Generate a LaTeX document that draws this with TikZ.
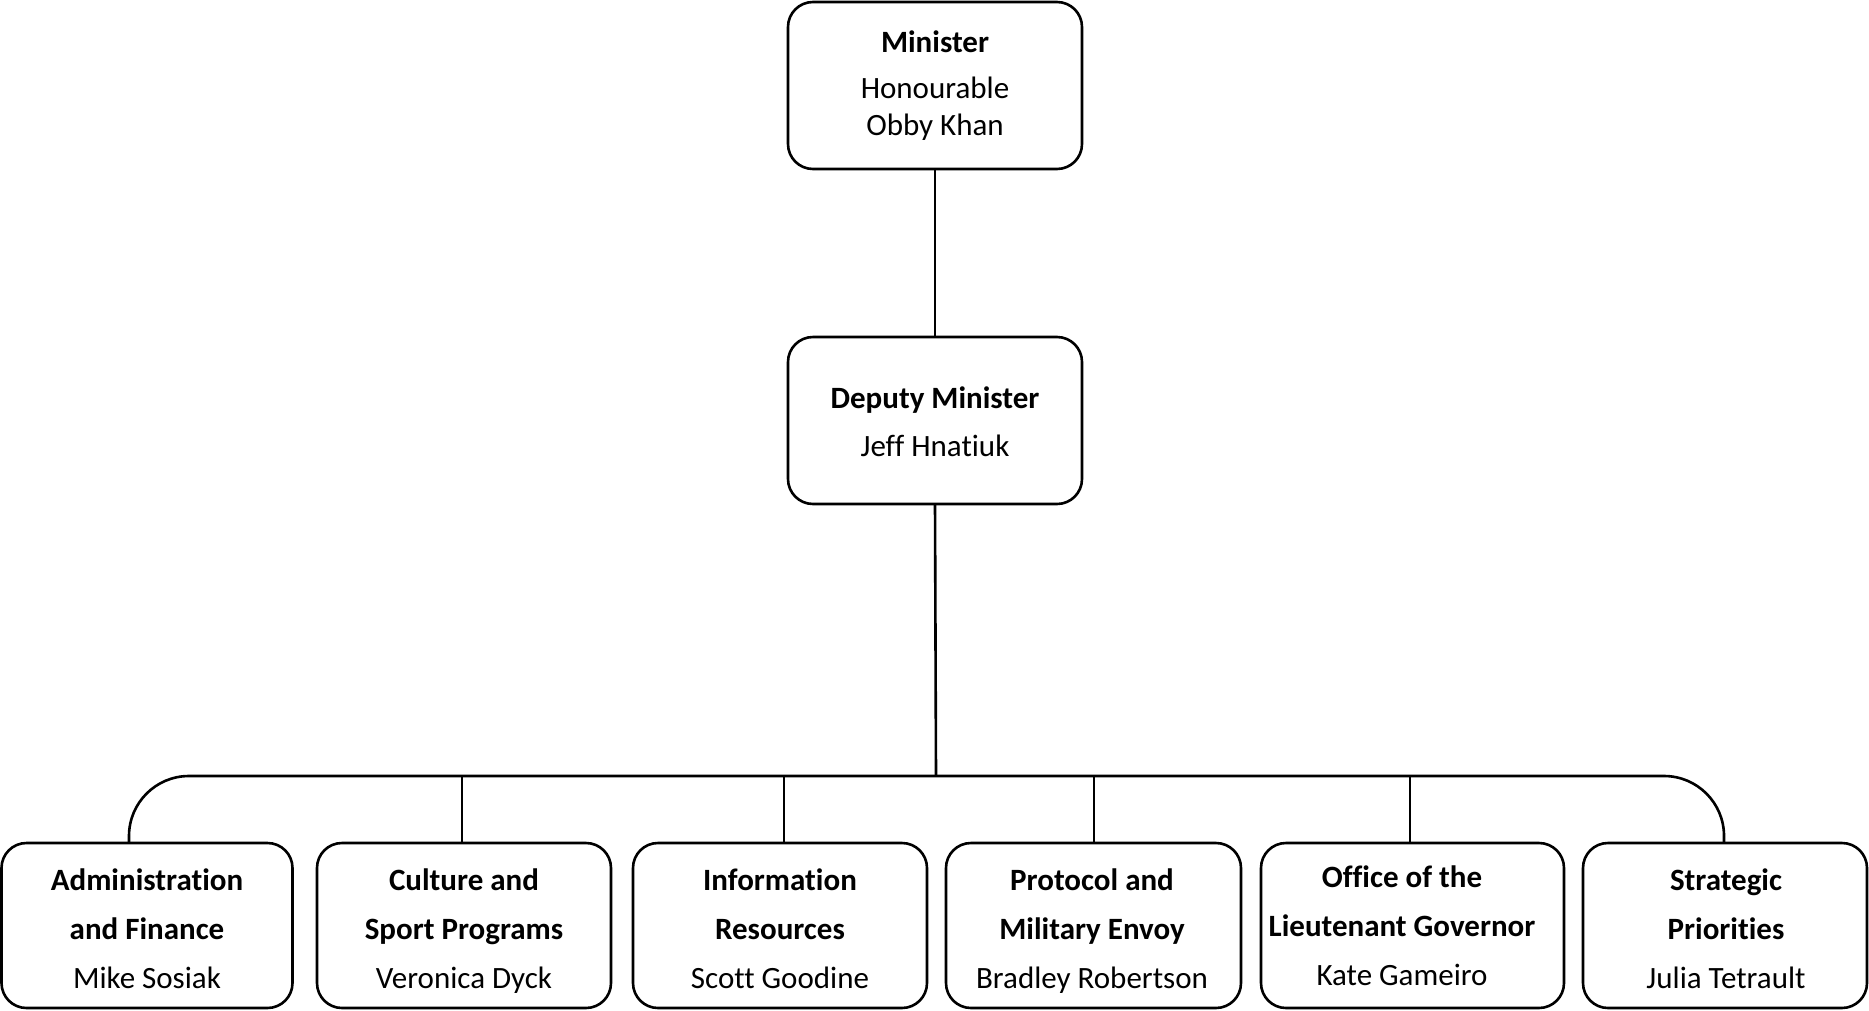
\documentclass[tikz,border=0pt]{standalone}
\usepackage{fontspec}
\setmainfont{Carlito}[Ligatures={NoCommon,NoRare,NoContextual}]
\begin{document}
\begin{tikzpicture}[x=1pt,y=-1pt,
  box/.style={draw, line width=2.6pt, rounded corners=25pt, inner sep=0pt, outer sep=0pt},
  ttl/.style={anchor=base, font=\fontsize{31}{37}\selectfont\bfseries, inner sep=0pt},
  nm/.style={anchor=base, font=\fontsize{31}{37}\selectfont, inner sep=0pt},
  conn/.style={line width=2.6pt}]
\useasboundingbox (0,0) rectangle (1869,1010);

% boxes
\node[box, minimum width=294pt, minimum height=167pt] (min) at (935,85.5) {};
\node[box, minimum width=294pt, minimum height=167pt] (dep) at (935,420.5) {};
\node[box, minimum width=291pt, minimum height=165pt] (b1) at (147,925.5) {};
\node[box, minimum width=294pt, minimum height=165pt] (b2) at (464,925.5) {};
\node[box, minimum width=294pt, minimum height=165pt] (b3) at (780,925.5) {};
\node[box, minimum width=295pt, minimum height=165pt] (b4) at (1093.5,925.5) {};
\node[box, minimum width=303pt, minimum height=165pt] (b5) at (1412.5,925.5) {};
\node[box, minimum width=284pt, minimum height=165pt] (b6) at (1725,925.5) {};

% texts
\node[ttl] (minA) at (935,52) {Minister};
\node[nm]  (minB) at (935,98) {Honourable};
\node[nm]  (minC) at (935,135) {Obby Khan};

\node[ttl] (depA) at (935,408) {Deputy Minister};
\node[nm]  (depB) at (935,456) {Jeff Hnatiuk};

\node[ttl] (b1A) at (147,890) {Administration};
\node[ttl] (b1B) at (147,939) {and Finance};
\node[nm]  (b1C) at (147,988) {Mike Sosiak};

\node[ttl] (b2A) at (464,890) {Culture and};
\node[ttl] (b2B) at (464,939) {Sport Programs};
\node[nm]  (b2C) at (464,988) {Veronica Dyck};

\node[ttl] (b3A) at (780,890) {Information};
\node[ttl] (b3B) at (780,939) {Resources};
\node[nm]  (b3C) at (780,988) {Scott Goodine};

\node[ttl] (b4A) at (1092,890) {Protocol and};
\node[ttl] (b4B) at (1092,939) {Military Envoy};
\node[nm]  (b4C) at (1092,988) {Bradley Robertson};

\node[ttl] (b5A) at (1402,887) {Office of the};
\node[ttl] (b5B) at (1402,936) {Lieutenant Governor};
\node[nm]  (b5C) at (1402,985) {Kate Gameiro};

\node[ttl] (b6A) at (1726,890) {Strategic};
\node[ttl] (b6B) at (1726,939) {Priorities};
\node[nm]  (b6C) at (1726,988) {Julia Tetrault};

% connectors
\coordinate (bus) at (936,776);
\coordinate (d1) at (129,843);
\coordinate (d2) at (462,843);
\coordinate (d3) at (784,843);
\coordinate (d4) at (1094,843);
\coordinate (d5) at (1410,843);
\coordinate (d6) at (1724,843);

\draw[conn] (min.south) -- (dep.north);
\draw[conn] (dep.south) -- (bus);
\draw[conn, rounded corners=60pt] (d1) -- (d1 |- bus) -- (d6 |- bus) -- (d6);
\draw[conn] (d2 |- bus) -- (d2);
\draw[conn] (d3 |- bus) -- (d3);
\draw[conn] (d4 |- bus) -- (d4);
\draw[conn] (d5 |- bus) -- (d5);
\end{tikzpicture}
\end{document}
